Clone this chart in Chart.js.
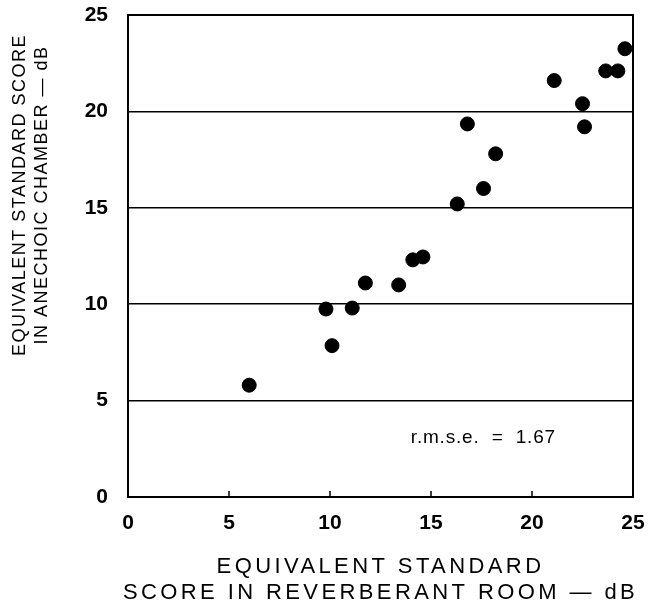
<!DOCTYPE html>
<html><head><meta charset="utf-8">
<script src="https://cdn.jsdelivr.net/npm/chart.js@4/dist/chart.umd.min.js"></script>
<style>html,body{margin:0;padding:0;background:#fff}#wrap{width:648px;height:608px}</style>
</head><body><div id="wrap"><canvas id="c" width="648" height="608"></canvas></div>
<script>
// Data
const reverberantRoom = [6.0, 9.8, 10.1, 11.1, 11.75, 13.4, 14.1, 14.6, 16.3, 16.8, 17.6, 18.2, 21.1, 22.5, 22.6, 23.65, 24.25, 24.6];
const anechoicChamber = [5.8, 9.75, 7.85, 9.8, 11.1, 11.0, 12.3, 12.45, 15.2, 19.35, 16.0, 17.8, 21.6, 20.4, 19.2, 22.1, 22.1, 23.25];
const tickValues = [0, 5, 10, 15, 20, 25];
const yTitleLines = ["EQUIVALENT STANDARD SCORE", "IN ANECHOIC CHAMBER — dB"];
const xTitleLines = ["EQUIVALENT STANDARD", "SCORE IN REVERBERANT ROOM — dB"];
const annotationText = "r.m.s.e.  =  1.67";
const annotationPos = {x: 14.0, y: 3.05};

const points = reverberantRoom.map((x, i) => ({x, y: anechoicChamber[i]}));

const decor = {
  id: 'decor',
  afterDraw(chart) {
    const ctx = chart.ctx, a = chart.chartArea;
    const xs = chart.scales.x, ys = chart.scales.y;
    ctx.save();
    ctx.strokeStyle = '#000';
    ctx.lineWidth = 2;
    ctx.strokeRect(a.left, a.top, a.right - a.left, a.bottom - a.top);
    // inward ticks on bottom axis
    ctx.lineWidth = 1.5;
    [5, 10, 15, 20].forEach(v => {
      const px = xs.getPixelForValue(v);
      ctx.beginPath(); ctx.moveTo(px, a.bottom); ctx.lineTo(px, a.bottom - 6); ctx.stroke();
    });
    ctx.fillStyle = '#000';
    // annotation
    ctx.font = '19px "Liberation Sans", Arial, sans-serif';
    ctx.letterSpacing = '0.8px';
    ctx.textAlign = 'left'; ctx.textBaseline = 'middle';
    ctx.fillText(annotationText, xs.getPixelForValue(annotationPos.x), ys.getPixelForValue(annotationPos.y));
    // x title
    ctx.font = '22px "Liberation Sans", Arial, sans-serif';
    ctx.letterSpacing = '3.4px';
    ctx.textAlign = 'center';
    const cx = (a.left + a.right) / 2;
    ctx.fillText(xTitleLines[0], cx, 567);
    ctx.fillText(xTitleLines[1], cx, 593);
    // y title
    ctx.font = '18px "Liberation Sans", Arial, sans-serif';
    ctx.letterSpacing = '1.5px';
    ctx.translate(0, 195);
    ctx.rotate(-Math.PI / 2);
    ctx.fillText(yTitleLines[0], 0, 20);
    ctx.fillText(yTitleLines[1], 0, 42);
    ctx.restore();
  }
};

new Chart(document.getElementById('c'), {
  type: 'scatter',
  data: { datasets: [{ data: points, backgroundColor: '#000', borderColor: '#000', pointRadius: 7, pointHoverRadius: 7 }] },
  options: {
    responsive: false, animation: false,
    layout: { padding: { left: 0, top: 15, right: 15, bottom: 0 } },
    plugins: { legend: { display: false }, tooltip: { enabled: false } },
    scales: {
      x: {
        type: 'linear', min: 0, max: 25,
        afterFit(s) { s.height = 111; s.paddingLeft = 0; s.paddingRight = 0; },
        afterBuildTicks(s) { s.ticks = tickValues.map(v => ({value: v})); },
        grid: { display: false, drawTicks: false },
        border: { display: true, color: '#000', width: 2 },
        ticks: { padding: 14, color: '#000', font: { family: '"Liberation Sans", Arial', size: 21, weight: 'bold' }, maxRotation: 0, autoSkip: false }
      },
      y: {
        type: 'linear', min: 0, max: 25,
        afterFit(s) { s.width = 128; s.paddingTop = 0; s.paddingBottom = 0; },
        afterBuildTicks(s) { s.ticks = tickValues.map(v => ({value: v})); },
        grid: { color: '#000', lineWidth: 1.5, drawTicks: false },
        border: { display: true, color: '#000', width: 2 },
        ticks: { padding: 20, color: '#000', font: { family: '"Liberation Sans", Arial', size: 21, weight: 'bold' }, autoSkip: false }
      }
    }
  },
  plugins: [decor]
});
</script></body></html>
